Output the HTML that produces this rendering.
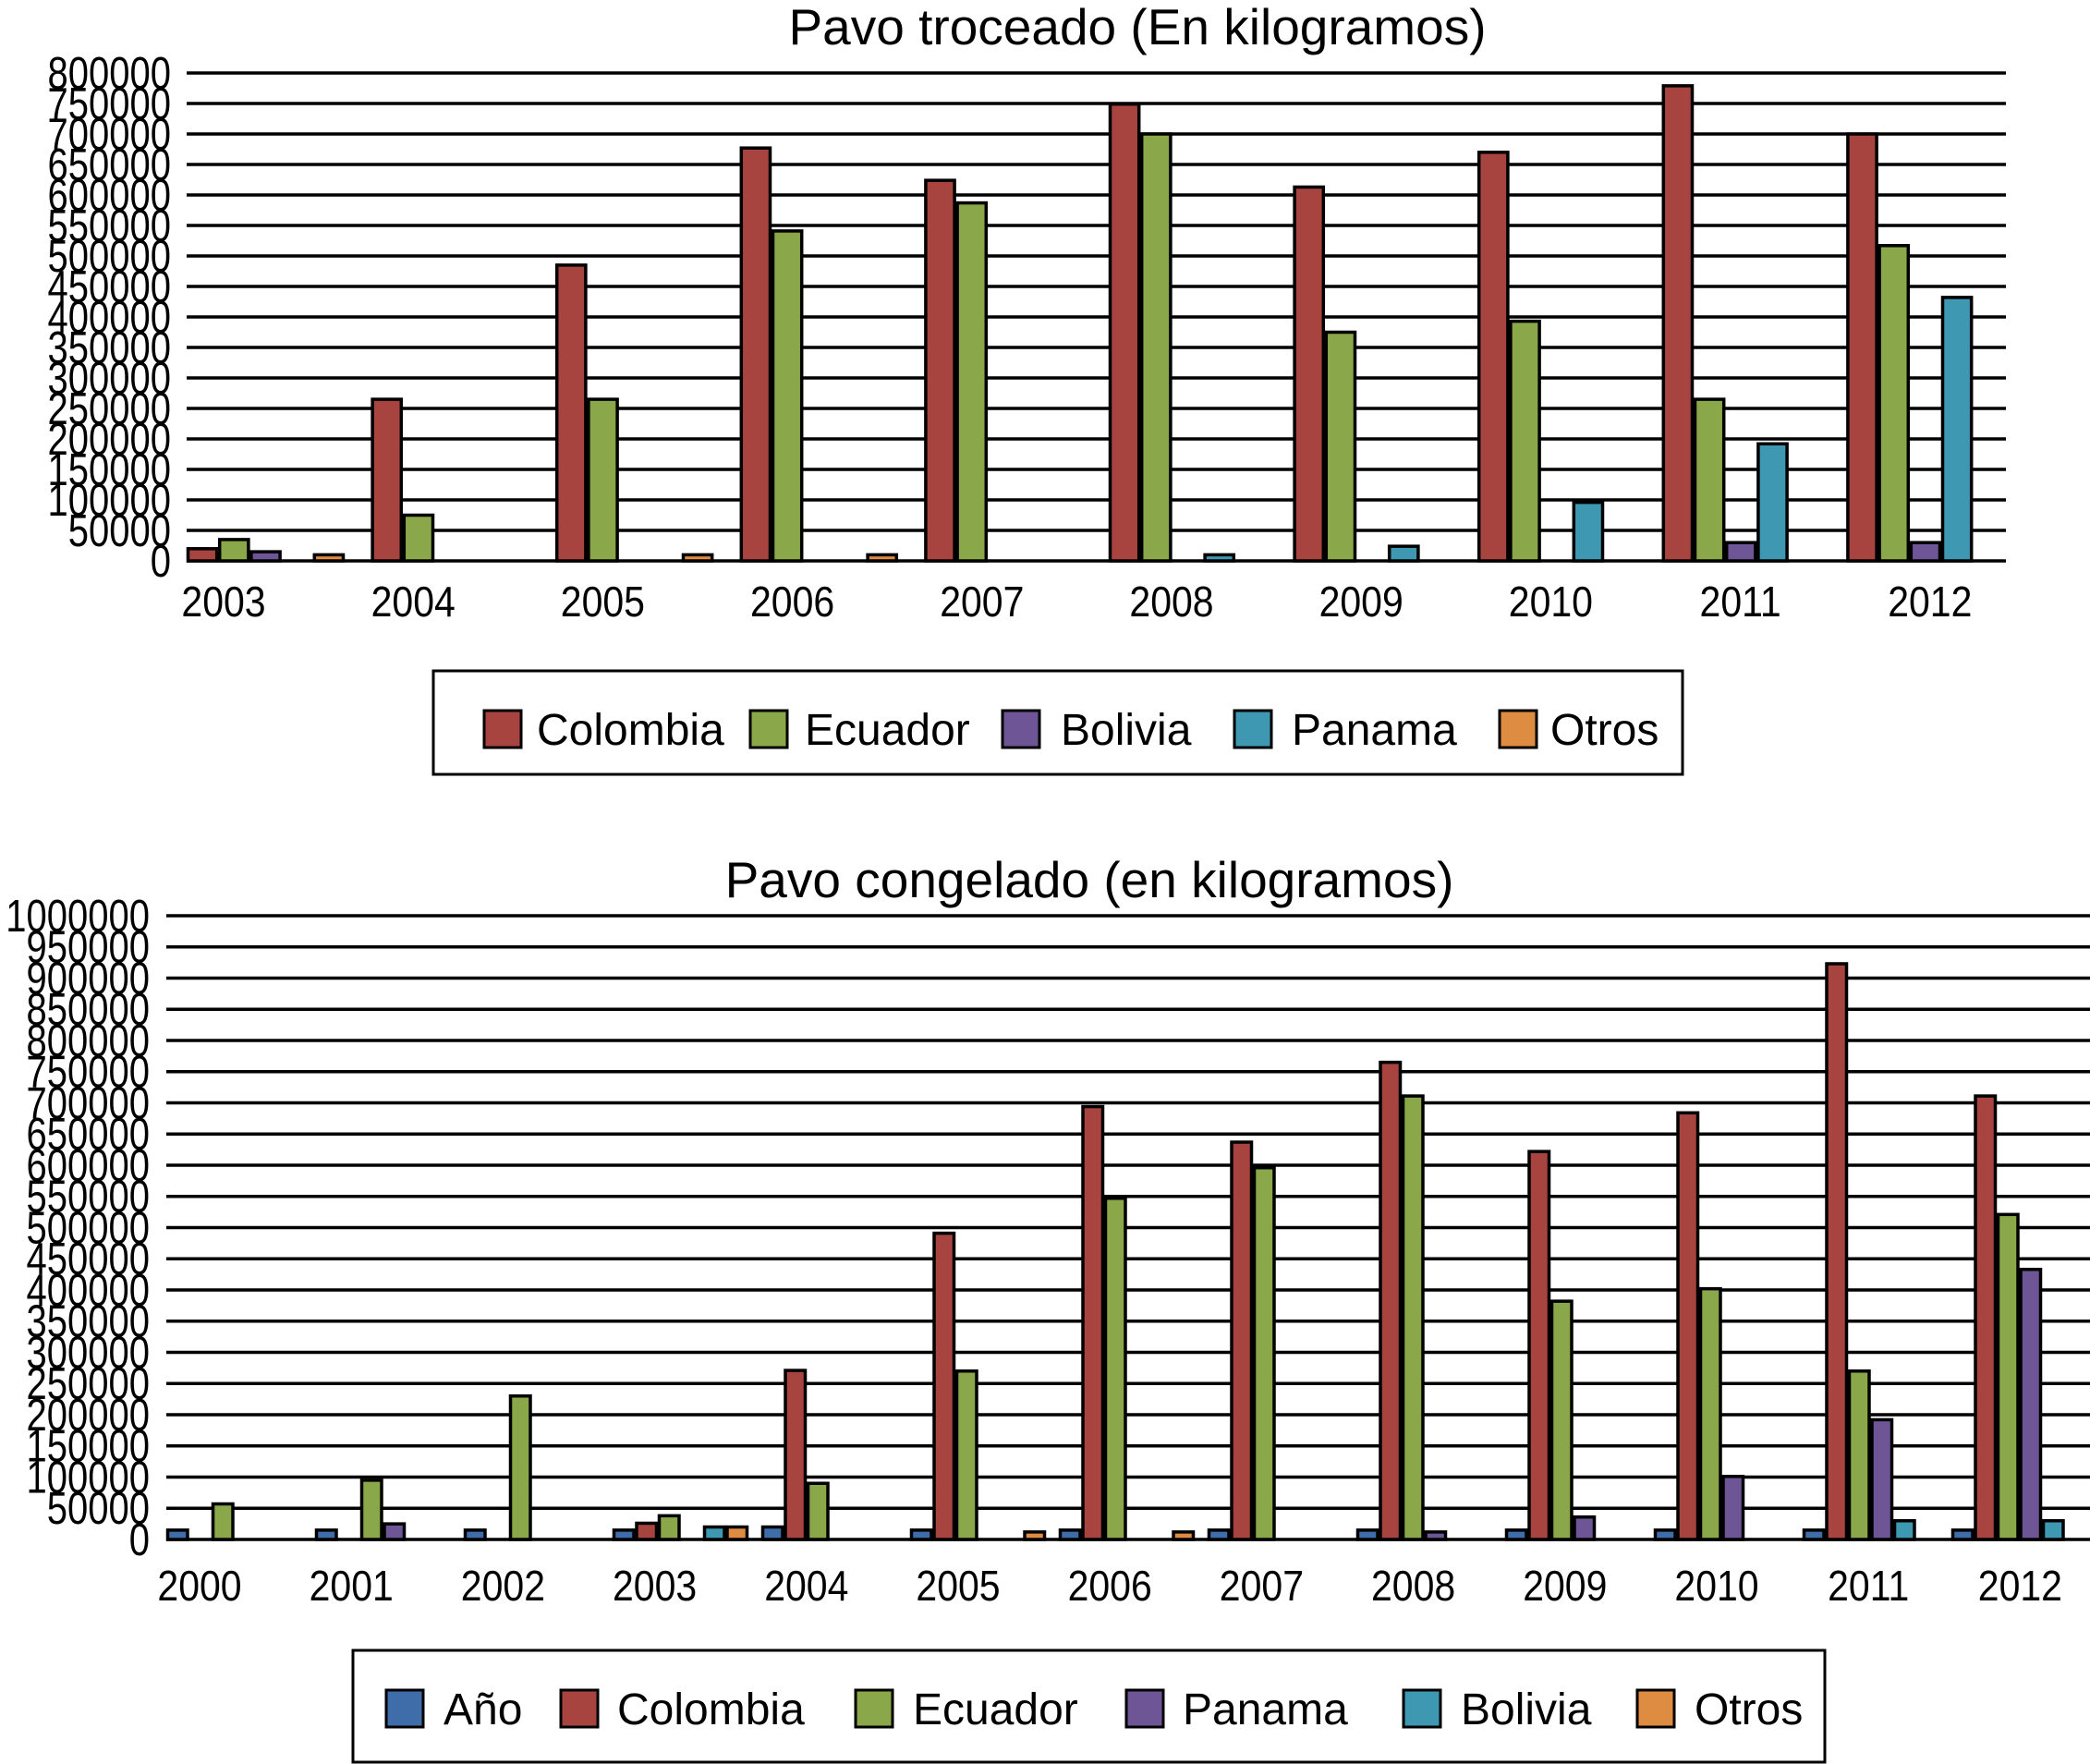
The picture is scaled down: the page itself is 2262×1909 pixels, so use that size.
<!DOCTYPE html>
<html><head><meta charset="utf-8"><style>
html,body{margin:0;padding:0;background:#fff}
svg{display:block;font-family:"Liberation Sans",Arial,sans-serif}
</style></head><body>
<svg id="c" width="2262" height="1909" viewBox="0 0 2262 1909" xmlns="http://www.w3.org/2000/svg">
<text x="1231" y="48" font-size="55" text-anchor="middle">Pavo troceado (En kilogramos)</text>
<text x="1179" y="971" font-size="55" text-anchor="middle">Pavo congelado (en kilogramos)</text>
<rect x="469" y="726" width="1352" height="112" fill="#fff" stroke="#000" stroke-width="3"/>
<rect x="382" y="1786" width="1593" height="121" fill="#fff" stroke="#000" stroke-width="3"/>
<g id="top"></g><g id="bot"></g>
</svg>
<script>
const NS="http://www.w3.org/2000/svg";
const topYears=["2003","2004","2005","2006","2007","2008","2009","2010","2011","2012"];
const topColombia=[20000,265000,485000,677000,624000,749000,613000,670000,779000,700000];
const topEcuador=[35000,75000,265000,541000,587000,700000,375000,393000,265000,517000];
const topBolivia=[15000,0,0,0,0,0,0,0,30000,30000];
const topPanama=[0,0,0,0,0,10000,24000,96000,192000,432000];
const topOtros=[10000,0,10000,10000,0,0,0,0,0,0];
const topTicks=[0,50000,100000,150000,200000,250000,300000,350000,400000,450000,500000,550000,600000,650000,700000,750000,800000];

const botYears=["2000","2001","2002","2003","2004","2005","2006","2007","2008","2009","2010","2011","2012"];
const botAno=[15000,15000,15000,15000,20000,15000,15000,15000,15000,15000,15000,15000,15000];
const botColombia=[0,0,0,26000,271000,491000,694000,637000,765000,622000,684000,923000,711000];
const botEcuador=[57000,95000,230000,38000,90000,270000,547000,596000,711000,382000,402000,270000,521000];
const botPanama=[0,25000,0,0,0,0,0,0,12000,36000,101000,192000,433000];
const botBolivia=[0,0,0,20000,0,0,0,0,0,0,0,30000,30000];
const botOtros=[0,0,0,20000,0,12000,12000,0,0,0,0,0,0];
const botTicks=[0,50000,100000,150000,200000,250000,300000,350000,400000,450000,500000,550000,600000,650000,700000,750000,800000,850000,900000,950000,1000000];

const C={red:"#A8443F",green:"#8AA84A",purple:"#6E5596",teal:"#3E98B2",orange:"#DE8C42",blue:"#3F6DAA"};

function mk(parent,tag,attrs){const e=document.createElementNS(NS,tag);for(const k in attrs)e.setAttribute(k,attrs[k]);parent.appendChild(e);return e;}

function draw(g,o){
  const y=v=>o.y0-(v/o.max)*(o.y0-o.yTop);
  o.ticks.forEach(t=>{
    const l=mk(g,"line",{x1:o.x0,x2:o.x1,y1:y(t),y2:y(t),stroke:"#000","stroke-width":3.5});
    
    
    const yy=y(t)+17;
    const tx=mk(g,"text",{x:o.labR,y:yy,"font-size":40,"text-anchor":"end",transform:"translate(0,"+yy+") scale(1,1.22) translate(0,"+(-yy)+")"});
    tx.textContent=String(t);
    
    
  });
  o.series.forEach((s,si)=>{
    s.vals.forEach((v,i)=>{
      if(!v)return;
      const x=o.x0+i*o.gw+si*o.slot;
      const r=mk(g,"rect",{x:x+1.5,y:y(v),width:o.slot-3,height:o.y0-y(v),fill:s.color,stroke:"#000","stroke-width":3.5});
      
      
    });
  });
  o.cats.forEach((c,i)=>{
    const yy=o.labY;
    const t=mk(g,"text",{x:o.lab0+i*o.labStep,y:yy,"font-size":41,"text-anchor":"middle",transform:"translate(0,"+yy+") scale(1,1.12) translate(0,"+(-yy)+")"});
    t.textContent=c;
    
    
  });
  o.legend.forEach((L,i)=>{
    const s=mk(g,"rect",{x:L[0],y:o.legY-20,width:40,height:40,fill:o.series[L[2]].color,stroke:"#000","stroke-width":3});
    
    
    const t=mk(g,"text",{x:L[1],y:o.legY+17,"font-size":48});
    t.textContent=o.series[L[2]].name;
    
    
  });
}

draw(document.getElementById("top"),{
  x0:202,x1:2171,y0:607,yTop:79,max:800000,ticks:topTicks,labR:185,
  gw:199.6,slot:34.2,cats:topYears,lab0:242,labStep:205.2,labY:667,legY:789,
  series:[{name:"Colombia",vals:topColombia,color:C.red},{name:"Ecuador",vals:topEcuador,color:C.green},
          {name:"Bolivia",vals:topBolivia,color:C.purple},{name:"Panama",vals:topPanama,color:C.teal},
          {name:"Otros",vals:topOtros,color:C.orange}],
  legend:[[524,581,0],[812,871,1],[1085,1148,2],[1336,1398,3],[1623,1678,4]]
});
draw(document.getElementById("bot"),{
  x0:180,x1:2262,y0:1666,yTop:991,max:1000000,ticks:botTicks,labR:162,
  gw:161,slot:24.5,cats:botYears,lab0:216,labStep:164.2,labY:1732,legY:1849,
  series:[{name:"Año",vals:botAno,color:C.blue},{name:"Colombia",vals:botColombia,color:C.red},
          {name:"Ecuador",vals:botEcuador,color:C.green},{name:"Panama",vals:botPanama,color:C.purple},
          {name:"Bolivia",vals:botBolivia,color:C.teal},{name:"Otros",vals:botOtros,color:C.orange}],
  legend:[[418,480,0],[607,668,1],[926,988,2],[1219,1280,3],[1519,1581,4],[1772,1834,5]]
});
</script>
</body></html>
